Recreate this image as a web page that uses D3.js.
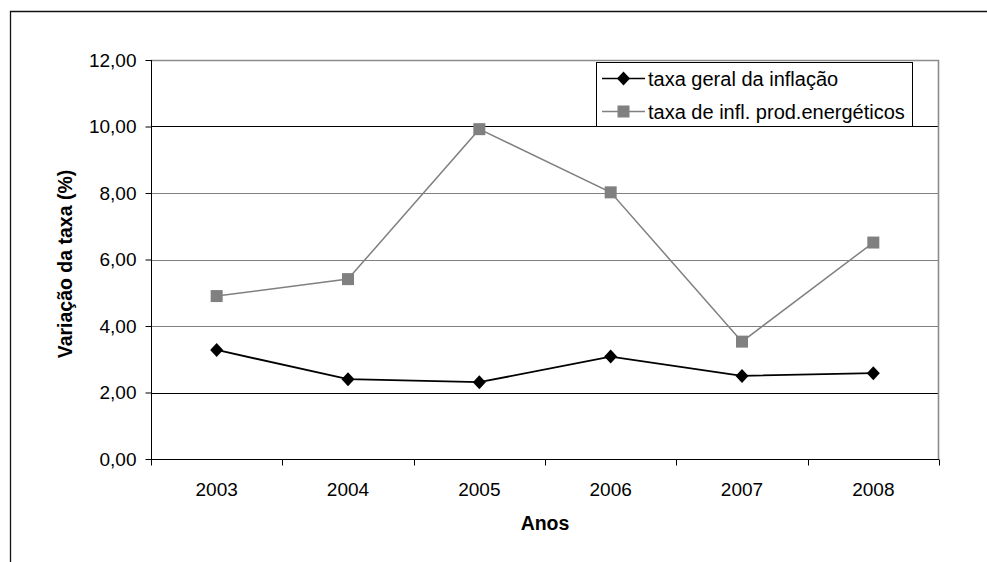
<!DOCTYPE html>
<html>
<head>
<meta charset="utf-8">
<script src="https://cdn.jsdelivr.net/npm/d3@7"></script>
<style>
  html, body { margin: 0; padding: 0; background: #fff; }
  svg { display: block; font-family: "Liberation Sans", Arial, sans-serif; }
</style>
</head>
<body>
<svg id="chart" width="987" height="562"></svg>
<script>
// Anos e taxas de inflação (%)
const anos = ["2003", "2004", "2005", "2006", "2007", "2008"];
const taxaGeral = [3.28, 2.40, 2.31, 3.08, 2.50, 2.58];
const taxaEnergeticos = [4.90, 5.41, 9.92, 8.02, 3.53, 6.51];
const yTicks = [0, 2, 4, 6, 8, 10, 12];
const serieNomes = ["taxa geral da inflação", "taxa de infl. prod.energéticos"];

const svg = d3.select("#chart");
const W = 987, H = 562;
const plot = { left: 151, right: 939, top: 60, bottom: 459 };

// moldura exterior do gráfico
svg.append("path")
  .attr("d", `M10.5,${H} V11.5 H${W}`)
  .attr("fill", "none")
  .attr("stroke", "#111")
  .attr("stroke-width", 1.3);

const x = d3.scaleBand().domain(anos).range([plot.left, plot.right]).padding(0);
const y = d3.scaleLinear().domain([0, 12]).range([plot.bottom, plot.top]);
const fmt = v => d3.format(".2f")(v).replace(".", ",");

// linhas de grelha horizontais
const gridColor = v => (v === 2 || v === 10) ? "#000" : "#808080";
svg.append("g").selectAll("line")
  .data(yTicks.filter(v => v > 0 && v < 12))
  .join("line")
  .attr("x1", plot.left).attr("x2", plot.right)
  .attr("y1", d => Math.round(y(d)) + 0.5).attr("y2", d => Math.round(y(d)) + 0.5)
  .attr("stroke", gridColor)
  .attr("stroke-width", 1);

// contorno da área de desenho (topo e direita)
svg.append("path")
  .attr("d", `M${plot.left},${plot.top + 0.5} H${plot.right - 0.5} V${plot.bottom}`)
  .attr("fill", "none")
  .attr("stroke", "#8c8c8c")
  .attr("stroke-width", 1.6);

// eixo Y
const yAxis = svg.append("g")
  .attr("transform", `translate(${plot.left + 0.5},0)`)
  .call(d3.axisLeft(y).tickValues(yTicks).tickFormat(fmt).tickSize(6).tickPadding(9));
yAxis.select(".domain").attr("stroke", "#000").attr("d", `M0,${plot.top} V${plot.bottom + 0.5}`);
yAxis.selectAll(".tick line").attr("stroke", "#000");
yAxis.selectAll(".tick text")
  .attr("font-size", 19)
  .attr("fill", "#000")
  .attr("font-family", "Liberation Sans, Arial, sans-serif");

// eixo X (marcas nas fronteiras das categorias)
const xAxis = svg.append("g")
  .attr("transform", `translate(0,${plot.bottom + 0.5})`)
  .call(d3.axisBottom(x).tickSize(0).tickPadding(23));
xAxis.select(".domain").attr("stroke", "#000").attr("d", `M${plot.left},0 H${plot.right}`);
xAxis.selectAll(".tick text")
  .attr("font-size", 19)
  .attr("fill", "#000")
  .attr("font-family", "Liberation Sans, Arial, sans-serif");
const bounds = anos.map(a => x(a)).concat([x(anos[anos.length - 1]) + x.bandwidth()]);
xAxis.selectAll("line.bound")
  .data(bounds)
  .join("line")
  .attr("class", "bound")
  .attr("x1", d => Math.round(d) + 0.5).attr("x2", d => Math.round(d) + 0.5)
  .attr("y1", 0).attr("y2", 6)
  .attr("stroke", "#000");

const cx = a => x(a) + x.bandwidth() / 2;

// série dos produtos energéticos (cinzento, quadrados)
const lineEn = d3.line().x((d, i) => cx(anos[i])).y(d => y(d));
svg.append("path")
  .datum(taxaEnergeticos)
  .attr("d", lineEn)
  .attr("fill", "none")
  .attr("stroke", "#808080")
  .attr("stroke-width", 1.5);
const sq = 12;
svg.append("g").selectAll("rect")
  .data(taxaEnergeticos)
  .join("rect")
  .attr("x", (d, i) => cx(anos[i]) - sq / 2)
  .attr("y", d => y(d) - sq / 2)
  .attr("width", sq).attr("height", sq)
  .attr("fill", "#808080");

// série da taxa geral (preto, losangos)
const lineGeral = d3.line().x((d, i) => cx(anos[i])).y(d => y(d));
svg.append("path")
  .datum(taxaGeral)
  .attr("d", lineGeral)
  .attr("fill", "none")
  .attr("stroke", "#000")
  .attr("stroke-width", 1.8);
const diamond = (hx, hy) => `M0,${-hy} L${hx},0 L0,${hy} L${-hx},0 Z`;
svg.append("g").selectAll("path")
  .data(taxaGeral)
  .join("path")
  .attr("transform", (d, i) => `translate(${cx(anos[i])},${y(d)})`)
  .attr("d", diamond(6.5, 7))
  .attr("fill", "#000");

// legenda
const lg = svg.append("g").attr("transform", "translate(596,62)");
lg.append("rect")
  .attr("x", 0.5).attr("y", 0.5)
  .attr("width", 316).attr("height", 64)
  .attr("fill", "#fff")
  .attr("stroke", "#000")
  .attr("stroke-width", 1);
const rows = [
  { name: serieNomes[0], color: "#000", mark: "diamond", yy: 16.5 },
  { name: serieNomes[1], color: "#808080", mark: "square", yy: 49.5 }
];
rows.forEach(r => {
  lg.append("line")
    .attr("x1", 6).attr("x2", 49)
    .attr("y1", r.yy).attr("y2", r.yy)
    .attr("stroke", r.color)
    .attr("stroke-width", 1.5);
  if (r.mark === "diamond") {
    lg.append("path")
      .attr("transform", `translate(27.5,${r.yy})`)
      .attr("d", diamond(6.5, 7))
      .attr("fill", r.color);
  } else {
    lg.append("rect")
      .attr("x", 27.5 - sq / 2).attr("y", r.yy - sq / 2)
      .attr("width", sq).attr("height", sq)
      .attr("fill", r.color);
  }
  lg.append("text")
    .attr("x", 52).attr("y", r.yy)
    .attr("dy", "0.35em")
    .attr("font-size", 20)
    .attr("fill", "#000")
    .text(r.name);
});

// títulos dos eixos
svg.append("text")
  .attr("x", (plot.left + plot.right) / 2).attr("y", 530)
  .attr("text-anchor", "middle")
  .attr("font-size", 19.5)
  .attr("font-weight", "bold")
  .attr("fill", "#000")
  .text("Anos");

svg.append("text")
  .attr("transform", "translate(72,264) rotate(-90)")
  .attr("text-anchor", "middle")
  .attr("font-size", 19.5)
  .attr("font-weight", "bold")
  .attr("fill", "#000")
  .text("Variação da taxa (%)");
</script>
</body>
</html>
